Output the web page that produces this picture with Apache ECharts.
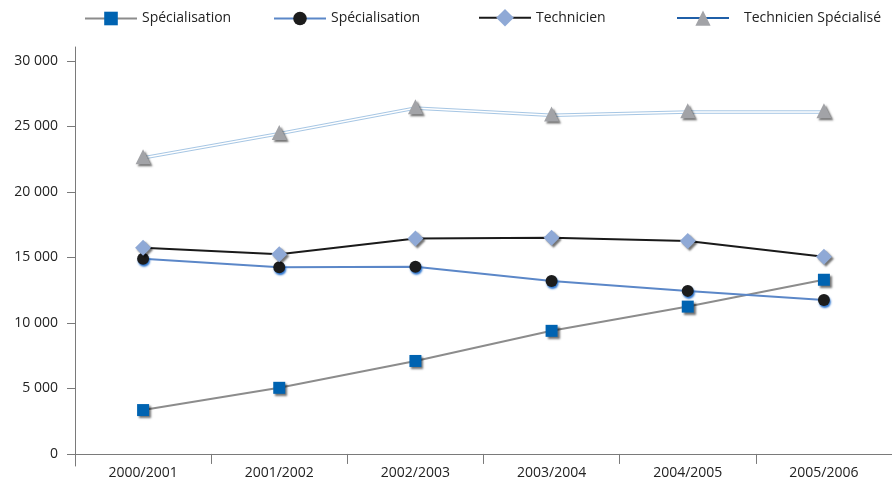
<!DOCTYPE html>
<html>
<head>
<meta charset="utf-8">
<script src="https://cdn.jsdelivr.net/npm/echarts@6/dist/echarts.min.js"></script>
<style>
  html, body { margin: 0; padding: 0; background: #fff; }
  #chart { width: 892px; height: 480px; }
</style>
</head>
<body>
<div id="chart"></div>
<script>
// School years on the category axis
const years = ['2000/2001', '2001/2002', '2002/2003', '2003/2004', '2004/2005', '2005/2006'];

// Enrolment counts per training level
const specialisationA = [3350, 5050, 7100, 9400, 11250, 13300];
const specialisationB = [14900, 14250, 14300, 13200, 12450, 11750];
const technicien = [15750, 15250, 16450, 16500, 16250, 15050];
const technicienSpecialise = [22700, 24550, 26500, 25950, 26200, 26200];

// Value-axis tick marks
const yTicks = [0, 5000, 10000, 15000, 20000, 25000, 30000];

const FONT = 'Open Sans';
const fmt = v => String(v).replace(/\B(?=(\d{3})+(?!\d))/g, ' ');

const chart = echarts.init(document.getElementById('chart'), null, { renderer: 'canvas' });

const markShadow = {
  shadowColor: 'rgba(0,0,0,0.55)',
  shadowBlur: 2,
  shadowOffsetX: 2,
  shadowOffsetY: 2
};

// One legend block per series, each centred on the same text baseline
function legendAt(left, name, h, extra) {
  return Object.assign({
    left: left,
    top: 20 - h / 2,
    itemWidth: 52,
    itemHeight: h,
    padding: 0,
    formatter: n => n.trim(),
    textStyle: { fontFamily: FONT, fontSize: 14, color: '#222' },
    data: [name]
  }, extra || {});
}

chart.setOption({
  backgroundColor: '#fff',
  animation: false,
  legend: [
    legendAt(84, 'Spécialisation', 17),
    legendAt(273, 'Spécialisation ', 17),
    legendAt(478, 'Technicien', 22),
    legendAt(676, 'Technicien Spécialisé', 19, {
      data: [{ name: 'Technicien Spécialisé', lineStyle: { color: '#1f5fa8', width: 2 } }],
      textStyle: { fontFamily: FONT, fontSize: 14, color: '#222', padding: [0, 0, 0, 10] }
    })
  ],
  grid: {
    left: 75,
    right: 0,
    top: 47,
    bottom: 14,
    containLabel: false,
    outerBoundsMode: 'none'
  },
  xAxis: {
    type: 'category',
    data: years,
    boundaryGap: true,
    axisLine: { onZero: true, lineStyle: { color: '#7a7a7a', width: 1 } },
    axisTick: { show: true, length: 10, lineStyle: { color: '#7a7a7a' } },
    axisLabel: { fontFamily: FONT, fontSize: 14, color: '#222', margin: 0 },
    splitLine: { show: false }
  },
  yAxis: {
    type: 'value',
    min: -920,
    max: 31070,
    axisLine: { show: true, onZero: false, lineStyle: { color: '#7a7a7a', width: 1 } },
    axisTick: { show: true, length: 8, customValues: yTicks, lineStyle: { color: '#7a7a7a' } },
    axisLabel: { fontFamily: FONT, fontSize: 14, color: '#222', margin: 17, customValues: yTicks, formatter: fmt },
    splitLine: { show: false }
  },
  series: [
    {
      name: 'Spécialisation',
      type: 'line',
      data: specialisationA,
      symbol: 'rect',
      symbolSize: 12,
      z: 3,
      lineStyle: { color: '#8c8c8c', width: 2 },
      itemStyle: Object.assign({ color: '#0063b1' }, markShadow)
    },
    {
      name: 'Spécialisation ',
      type: 'line',
      data: specialisationB,
      symbol: 'circle',
      symbolSize: 12,
      z: 4,
      lineStyle: { color: '#5b87c8', width: 2 },
      itemStyle: {
        color: '#1c1c1c',
        shadowColor: 'rgba(20,100,200,0.9)',
        shadowBlur: 2,
        shadowOffsetX: 1,
        shadowOffsetY: 2
      }
    },
    {
      name: 'Technicien',
      type: 'line',
      data: technicien,
      symbol: 'diamond',
      symbolSize: 16,
      z: 5,
      lineStyle: { color: '#1a1a1a', width: 2 },
      itemStyle: Object.assign({ color: '#8fa9d6' }, markShadow)
    },
    {
      name: 'Technicien Spécialisé',
      type: 'line',
      data: technicienSpecialise,
      symbol: 'triangle',
      symbolSize: 15,
      z: 6,
      lineStyle: {
        color: '#a6c6e4',
        width: 1,
        shadowColor: '#a6c6e4',
        shadowBlur: 0,
        shadowOffsetY: 2.5
      },
      itemStyle: Object.assign({ color: '#a2a3a7' }, markShadow)
    }
  ]
});
</script>
</body>
</html>
